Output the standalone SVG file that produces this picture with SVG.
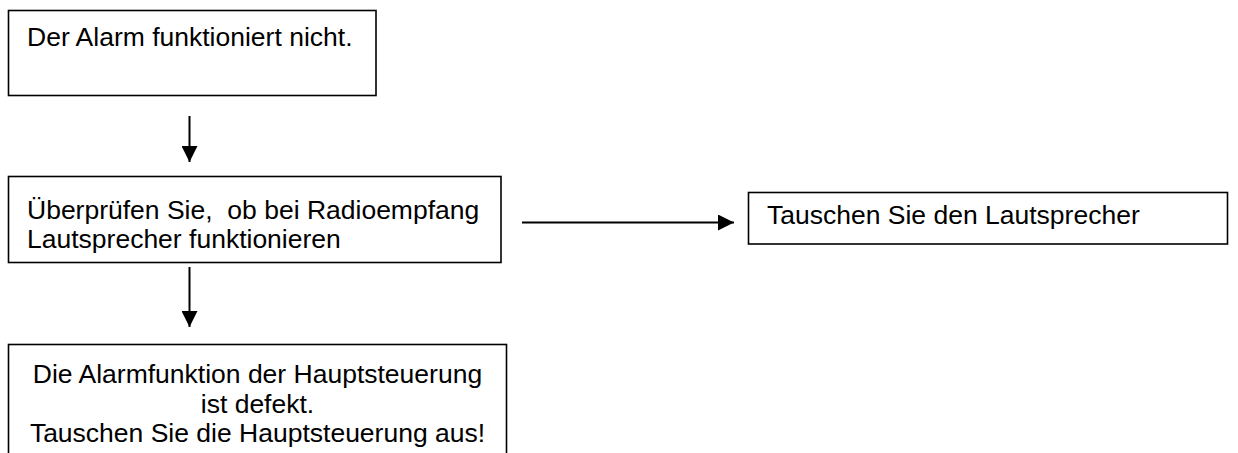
<svg xmlns="http://www.w3.org/2000/svg" width="1238" height="453" viewBox="0 0 1238 453">
<style>
.box{fill:#fff;stroke:#000;stroke-width:1.6}
.t{font-family:"Liberation Sans",Arial,sans-serif;font-size:26.5px;fill:#000}
.c{text-anchor:middle}
.conn{stroke:#000;stroke-width:2;fill:none}
</style>
<defs>
<marker id="ah" markerUnits="userSpaceOnUse" markerWidth="17" markerHeight="16" refX="16" refY="8" orient="auto">
<path d="M0,0 L16,8 L0,16 z" fill="#000"/>
</marker>
</defs>
<rect width="1238" height="453" fill="#fff"/>
<g id="n1">
<rect class="box" x="8.5" y="10.5" width="367.5" height="85"/>
<text class="t" x="27" y="45.5">Der Alarm funktioniert nicht.</text>
</g>
<g id="n2">
<rect class="box" x="8.5" y="176.5" width="492.5" height="86"/>
<text class="t" x="27" y="219" xml:space="preserve">Überprüfen Sie,  ob bei Radioempfang</text>
<text class="t" x="27" y="248">Lautsprecher funktionieren</text>
</g>
<g id="n3">
<rect class="box" x="748.5" y="192.5" width="479" height="51.5"/>
<text class="t" x="767" y="224">Tauschen Sie den Lautsprecher</text>
</g>
<g id="n4">
<rect class="box" x="8.5" y="344.5" width="498" height="130"/>
<text class="t c" x="257.5" y="383">Die Alarmfunktion der Hauptsteuerung</text>
<text class="t c" x="257.5" y="413">ist defekt.</text>
<text class="t c" x="257.5" y="442">Tauschen Sie die Hauptsteuerung aus!</text>
</g>
<g id="connectors">
<line class="conn" x1="189.5" y1="116" x2="189.5" y2="162" marker-end="url(#ah)"/>
<line class="conn" x1="189.5" y1="267" x2="189.5" y2="327" marker-end="url(#ah)"/>
<line class="conn" x1="522" y1="222.5" x2="734" y2="222.5" marker-end="url(#ah)"/>
</g>
</svg>
